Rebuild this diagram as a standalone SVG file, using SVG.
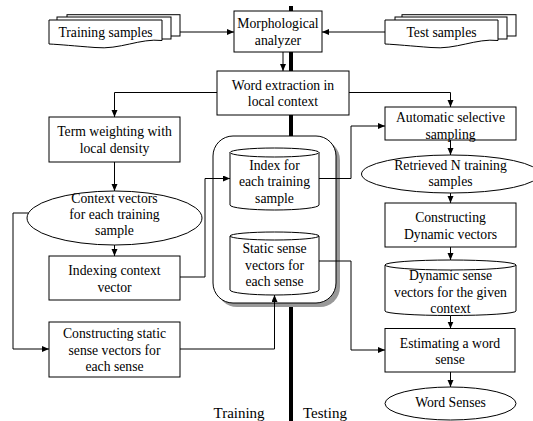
<svg xmlns="http://www.w3.org/2000/svg" width="533" height="421" viewBox="0 0 533 421" font-family="'Liberation Serif', 'Times New Roman', 'DejaVu Serif', serif">
<style>
text{font-family:'Liberation Serif','Times New Roman','DejaVu Serif',serif;font-size:13.7px;fill:#000;text-anchor:middle}
.s{fill:#fff;stroke:#000;stroke-width:1}
.c{fill:none;stroke:#000;stroke-width:1}
.lbl{text-anchor:start;font-size:15px}
</style>
<defs>
<marker id="ah" markerUnits="userSpaceOnUse" markerWidth="8" markerHeight="7" refX="7" refY="3" orient="auto">
<path d="M0,0 L7,3 L0,6 z" fill="#000"/>
</marker>
</defs>
<rect width="533" height="421" fill="#fff"/>
<line x1="291" y1="6" x2="291" y2="421" stroke="#000" stroke-width="4"/>

<g id="training-samples">
<rect class="s" x="67" y="14.7" width="113" height="21.3"/>
<rect class="s" x="57" y="17" width="114" height="22"/>
<path class="s" d="M49,20 H162 V40.5 C140,38 120,50 95,47.5 C75,46 60,44.5 49,44 Z"/>
<text x="105.5" y="36.5">Training samples</text>
</g>
<g id="test-samples">
<rect class="s" x="402" y="14.7" width="114" height="21.3"/>
<rect class="s" x="395" y="17" width="112" height="22"/>
<path class="s" d="M385,20 H498 V40.5 C476,38 456,50 431,47.5 C411,46 396,44.5 385,44 Z"/>
<text x="441.5" y="36.5">Test samples</text>
</g>
<g id="morph">
<rect class="s" x="234" y="11" width="88" height="41"/>
<text x="278" y="27.5">Morphological</text>
<text x="278" y="45">analyzer</text>
</g>
<g id="word-extraction">
<rect class="s" x="217" y="71" width="132" height="44"/>
<text x="283" y="89.5">Word extraction in</text>
<text x="283" y="105.5">local context</text>
</g>
<g id="term-weighting">
<rect class="s" x="49" y="117" width="131" height="45"/>
<text x="114.5" y="136">Term weighting with</text>
<text x="114.5" y="152.5">local density</text>
</g>
<g id="context-vectors">
<ellipse class="s" cx="114.5" cy="218" rx="87.5" ry="27"/>
<text x="114.5" y="202.5">Context vectors</text>
<text x="114.5" y="218.5">for each training</text>
<text x="114.5" y="234.5">sample</text>
</g>
<g id="indexing">
<rect class="s" x="49" y="256" width="131" height="44"/>
<text x="114.5" y="274.5">Indexing context</text>
<text x="114.5" y="292">vector</text>
</g>
<g id="constructing-static">
<rect class="s" x="49" y="322" width="131" height="55"/>
<text x="114.5" y="338">Constructing static</text>
<text x="114.5" y="354.5">sense vectors for</text>
<text x="114.5" y="371">each sense</text>
</g>
<g id="database">
<rect x="217" y="140" width="123" height="167" rx="20" fill="#999"/>
<rect class="s" x="213" y="136" width="123" height="167" rx="20"/>
</g>
<g id="index-cyl">
<path class="s" d="M230,152.5 V205 A44.5,5 0 0 0 319,205 V152.5 Z"/>
<ellipse class="s" cx="274.5" cy="152.5" rx="44.5" ry="4.5"/>
<text x="274.5" y="169.5">Index for</text>
<text x="274.5" y="186">each training</text>
<text x="274.5" y="202.5">sample</text>
</g>
<g id="static-cyl">
<path class="s" d="M230,236 V290 A44.5,5 0 0 0 319,290 V236 Z"/>
<ellipse class="s" cx="274.5" cy="236" rx="44.5" ry="4"/>
<text x="274.5" y="253">Static sense</text>
<text x="274.5" y="269.5">vectors for</text>
<text x="274.5" y="286">each sense</text>
</g>
<g id="automatic">
<rect class="s" x="385" y="107" width="131" height="33"/>
<text x="450.5" y="121.5">Automatic selective</text>
<text x="450.5" y="138.5">sampling</text>
</g>
<g id="retrieved">
<ellipse class="s" cx="450.5" cy="174" rx="89" ry="19"/>
<text x="450.5" y="169.5">Retrieved N training</text>
<text x="450.5" y="185.5">samples</text>
</g>
<g id="constructing-dynamic">
<rect class="s" x="385" y="203" width="131" height="44"/>
<text x="450.5" y="222">Constructing</text>
<text x="450.5" y="238.5">Dynamic vectors</text>
</g>
<g id="dynamic-cyl">
<path class="s" d="M385,265 V311 A65.5,4.5 0 0 0 516,311 V265 Z"/>
<ellipse class="s" cx="450.5" cy="265" rx="65.5" ry="5"/>
<text x="450.5" y="280">Dynamic sense</text>
<text x="450.5" y="297">vectors for the given</text>
<text x="450.5" y="312.5">context</text>
</g>
<g id="estimating">
<rect class="s" x="385" y="328.5" width="130" height="43.5"/>
<text x="450" y="348">Estimating a word</text>
<text x="450" y="364">sense</text>
</g>
<g id="word-senses">
<ellipse class="s" cx="450.5" cy="403.5" rx="65.5" ry="16.5"/>
<text x="450.5" y="406.5">Word Senses</text>
</g>

<g id="connectors" fill="none" stroke="#000" stroke-width="1">
<path marker-end="url(#ah)" d="M180,32 H234"/>
<path marker-end="url(#ah)" d="M385,32 H322"/>
<path marker-end="url(#ah)" d="M283,52 V71"/>
<path marker-end="url(#ah)" d="M217,92.5 H114.5 V117"/>
<path marker-end="url(#ah)" d="M349,92.5 H450.5 V107"/>
<path marker-end="url(#ah)" d="M114.5,162 V191"/>
<path marker-end="url(#ah)" d="M114.5,245 V256"/>
<path marker-end="url(#ah)" d="M28.5,213 H13 V349 H49"/>
<path marker-end="url(#ah)" d="M180,277 H205 V178.5 H230"/>
<path marker-end="url(#ah)" d="M180,349 H274.5 V295"/>
<path marker-end="url(#ah)" d="M319,178.5 H351 V126 H385"/>
<path marker-end="url(#ah)" d="M319,261 H351 V350 H385"/>
<path marker-end="url(#ah)" d="M450.5,140 V155"/>
<path marker-end="url(#ah)" d="M450.5,193 V203"/>
<path marker-end="url(#ah)" d="M450.5,247 V260"/>
<path marker-end="url(#ah)" d="M450.5,315.5 V328.5"/>
<path marker-end="url(#ah)" d="M450.5,372 V387"/>
</g>
<text class="lbl" x="213.5" y="417.5">Training</text>
<text class="lbl" x="303" y="417.5">Testing</text>
</svg>
